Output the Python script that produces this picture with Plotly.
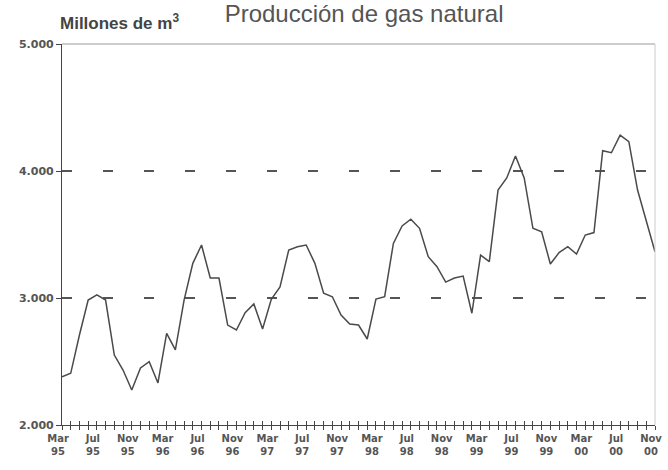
import plotly.graph_objects as go

values = [
    2380, 2407, 2709, 2984, 3024, 2984, 2551, 2433, 2276, 2449, 2499, 2331,
    2722, 2591, 2984, 3273, 3417, 3157, 3157, 2787, 2748, 2885, 2953, 2756,
    2990, 3087, 3378, 3404, 3417, 3273, 3037, 3010, 2866, 2795, 2787, 2677,
    2992, 3010, 3430, 3567, 3620, 3549, 3325, 3247, 3125, 3157, 3173, 2880,
    3338, 3286, 3850, 3945, 4118, 3945, 3549, 3522, 3268, 3357, 3404, 3346,
    3496, 3515, 4160, 4144, 4283, 4231, 3850, 3614, 3364,
]

label_months = ["Mar", "Jul", "Nov"]
year_labels = ["95", "95", "95", "96", "96", "96", "97", "97", "97",
               "98", "98", "98", "99", "99", "99", "00", "00", "00"]

y_ticks = [2000, 3000, 4000, 5000]

idx = list(range(len(values)))
ticktext = []
for i in idx:
    if i % 4 == 0:
        k = i // 4
        ticktext.append(f"{label_months[k % 3]}<br>{year_labels[k]}")
    else:
        ticktext.append("")

fig = go.Figure()
fig.add_trace(go.Scatter(
    x=idx, y=values, mode="lines",
    line=dict(color="#4a4a4a", width=1.5),
    showlegend=False, hoverinfo="skip",
))
# invisible trace for the inside-tick overlay axis (makes the "+" ticks)
fig.add_trace(go.Scatter(
    x=[idx[0], idx[-1]], y=[y_ticks[0], y_ticks[0]], mode="lines",
    line=dict(color="rgba(0,0,0,0)", width=0),
    xaxis="x2", showlegend=False, hoverinfo="skip",
))

TICKFONT = "DejaVu Sans, Verdana, sans-serif"
fig.update_layout(
    width=668, height=470,
    margin=dict(l=62, r=13, t=44, b=45),
    paper_bgcolor="white", plot_bgcolor="white",
    separators=",.",
    font=dict(family="Liberation Sans, Arial, sans-serif", color="#444"),
    title=dict(
        text="Producción de gas natural",
        x=0.545, xanchor="center", y=0.988, yanchor="top", pad=dict(t=0),
        font=dict(size=24, color="#555", family="Liberation Sans, Arial, sans-serif"),
    ),
    xaxis=dict(
        range=[0, 68], tickmode="array", tickvals=idx, ticktext=ticktext,
        ticks="outside", ticklen=4, tickwidth=1, tickcolor="#444",
        showline=True, linecolor="#444", linewidth=1.2, ticklabelshift=-4,
        showgrid=False, zeroline=False, tickangle=0, automargin=False,
        tickfont=dict(size=10, color="#555", family=TICKFONT, weight="bold"),
    ),
    xaxis2=dict(
        range=[0, 68], overlaying="x", tickmode="array", tickvals=idx,
        ticktext=[""] * len(idx), side="bottom", automargin=False,
        ticks="inside", ticklen=4, tickwidth=1, tickcolor="#444",
        showline=False, showgrid=False, zeroline=False, showticklabels=False,
    ),
    yaxis=dict(
        range=[2000, 5000], tickvals=y_ticks, tickformat=",d",
        ticks="outside", ticklen=5, tickcolor="#444", automargin=False,
        showline=True, linecolor="#444", linewidth=1.2,
        showgrid=True, gridcolor="#555", gridwidth=1.5, griddash="10px,31px",
        zeroline=False,
        tickfont=dict(size=11, color="#555", family=TICKFONT, weight="bold"),
    ),
    shapes=[
        dict(type="line", xref="paper", yref="paper", x0=0, x1=1, y0=1, y1=1,
             line=dict(color="#999", width=1)),
        dict(type="line", xref="paper", yref="paper", x0=1, x1=1, y0=0, y1=1,
             line=dict(color="#ccc", width=1)),
    ],
    annotations=[
        dict(text="<b>Millones de m<sup>3</sup></b>", xref="paper", yref="paper",
             x=0.0, xanchor="left", xshift=-4, y=1.0, yanchor="bottom", yshift=9,
             showarrow=False,
             font=dict(size=17, color="#444", family="Liberation Sans, Arial, sans-serif")),
    ],
)

fig.write_html("out.html", config={"displayModeBar": False},
               post_script="document.body.style.margin='0';")
